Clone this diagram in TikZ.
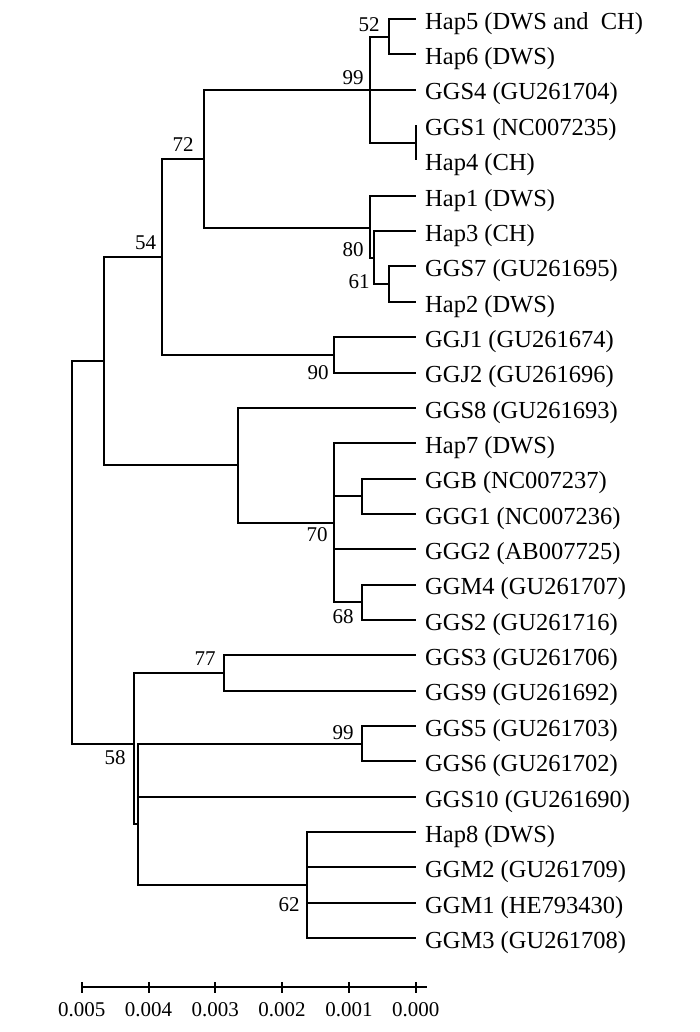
\documentclass[tikz,border=0pt]{standalone}
\usepackage{fontspec}
\setmainfont{Liberation Serif}
\newcommand\leaffont{\fontsize{24.5}{29}\selectfont}
\newcommand\bootfont{\fontsize{21}{25}\selectfont}
\begin{document}
\begin{tikzpicture}[x=1pt,y=-1pt,
  branch/.style={line width=2pt},
  leaf/.style={anchor=base west, inner sep=0pt, font=\leaffont},
  boot/.style={inner sep=0pt, font=\bootfont},
  scalelab/.style={inner sep=0pt, font=\bootfont}]
\useasboundingbox (0,0) rectangle (700,1032);
% leaves
\foreach \i/\nm/\txt in {
  0/Hap5/{Hap5 (DWS and~\ CH)},
  1/Hap6/{Hap6 (DWS)},
  2/GGS4/{GGS4 (GU261704)},
  3/GGS1/{GGS1 (NC007235)},
  4/Hap4/{Hap4 (CH)},
  5/Hap1/{Hap1 (DWS)},
  6/Hap3/{Hap3 (CH)},
  7/GGS7/{GGS7 (GU261695)},
  8/Hap2/{Hap2 (DWS)},
  9/GGJ1/{GGJ1 (GU261674)},
  10/GGJ2/{GGJ2 (GU261696)},
  11/GGS8/{GGS8 (GU261693)},
  12/Hap7/{Hap7 (DWS)},
  13/GGB/{GGB (NC007237)},
  14/GGG1/{GGG1 (NC007236)},
  15/GGG2/{GGG2 (AB007725)},
  16/GGM4/{GGM4 (GU261707)},
  17/GGS2/{GGS2 (GU261716)},
  18/GGS3/{GGS3 (GU261706)},
  19/GGS9/{GGS9 (GU261692)},
  20/GGS5/{GGS5 (GU261703)},
  21/GGS6/{GGS6 (GU261702)},
  22/GGS10/{GGS10 (GU261690)},
  23/Hap8/{Hap8 (DWS)},
  24/GGM2/{GGM2 (GU261709)},
  25/GGM1/{GGM1 (HE793430)},
  26/GGM3/{GGM3 (GU261708)}}{
  \pgfmathsetmacro\yy{19+35.35*\i}
  \coordinate (t\nm) at (415.7,\yy);
  \node[leaf] (l\nm) at (425,\yy+10.3) {\txt};
}
% internal nodes
\coordinate (n52) at (388.7,36.7);
\coordinate (n99) at (370,89.7);
\coordinate (nGH) at (415.7,142.7);
\coordinate (n72) at (204,158.8);
\coordinate (n80) at (370,227.7);
\coordinate (nX) at (374.3,257.6);
\coordinate (n61) at (388.7,284.1);
\coordinate (n54) at (162.3,257.3);
\coordinate (n90) at (334.3,354.8);
\coordinate (nC) at (103.7,361.2);
\coordinate (nD) at (238.3,465.3);
\coordinate (n70) at (334.3,522.7);
\coordinate (nGB) at (361.7,496.2);
\coordinate (n68) at (361.7,602.3);
\coordinate (root) at (71.7,552);
\coordinate (nA) at (134,744.3);
\coordinate (n77) at (224.3,673);
\coordinate (nB) at (137.7,824);
\coordinate (n99b) at (361.7,743.7);
\coordinate (n62) at (306.7,885.1);
% branches
\draw[branch] (n52) |- (tHap5);
\draw[branch] (n52) |- (tHap6);
\draw[branch] (n99) |- (n52);
\draw[branch] (n99) |- (tGGS4);
\draw[branch] (n99) |- (nGH);
\draw[branch] (nGH) |- (tGGS1);
\draw[branch] (nGH) |- (tHap4);
\draw[branch] (n72) |- (n99);
\draw[branch] (n72) |- (n80);
\draw[branch] (n80) |- (tHap1);
\draw[branch] (n80) |- (nX);
\draw[branch] (nX) |- (tHap3);
\draw[branch] (nX) |- (n61);
\draw[branch] (n61) |- (tGGS7);
\draw[branch] (n61) |- (tHap2);
\draw[branch] (n54) |- (n72);
\draw[branch] (n54) |- (n90);
\draw[branch] (n90) |- (tGGJ1);
\draw[branch] (n90) |- (tGGJ2);
\draw[branch] (nC) |- (n54);
\draw[branch] (nC) |- (nD);
\draw[branch] (nD) |- (tGGS8);
\draw[branch] (nD) |- (n70);
\draw[branch] (n70) |- (tHap7);
\draw[branch] (n70) |- (nGB);
\draw[branch] (n70) |- (tGGG2);
\draw[branch] (n70) |- (n68);
\draw[branch] (nGB) |- (tGGB);
\draw[branch] (nGB) |- (tGGG1);
\draw[branch] (n68) |- (tGGM4);
\draw[branch] (n68) |- (tGGS2);
\draw[branch] (root) |- (nC);
\draw[branch] (root) |- (nA);
\draw[branch] (nA) |- (n77);
\draw[branch] (nA) |- (nB);
\draw[branch] (n77) |- (tGGS3);
\draw[branch] (n77) |- (tGGS9);
\draw[branch] (nB) |- (n99b);
\draw[branch] (nB) |- (tGGS10);
\draw[branch] (nB) |- (n62);
\draw[branch] (n99b) |- (tGGS5);
\draw[branch] (n99b) |- (tGGS6);
\draw[branch] (n62) |- (tHap8);
\draw[branch] (n62) |- (tGGM2);
\draw[branch] (n62) |- (tGGM1);
\draw[branch] (n62) |- (tGGM3);
% bootstrap values
\node[boot] (b52) at (369,25) {52};
\node[boot] (b99a) at (353,78) {99};
\node[boot] (b72) at (183,145) {72};
\node[boot] (b54) at (145.5,242.5) {54};
\node[boot] (b80) at (353,250) {80};
\node[boot] (b61) at (359,282) {61};
\node[boot] (b90) at (318,373) {90};
\node[boot] (b70) at (317,535) {70};
\node[boot] (b68) at (343,617) {68};
\node[boot] (b77) at (205,659) {77};
\node[boot] (b99b) at (343,733) {99};
\node[boot] (b58) at (115,758) {58};
\node[boot] (b62) at (289,905) {62};
% scale bar
\coordinate (sL) at (81.7,987.3);
\coordinate (sR) at (426.7,987.3);
\draw[branch] (sL) -- (sR);
\foreach \k/\lab in {0/0.005,1/0.004,2/0.003,3/0.002,4/0.001,5/0.000}{
  \pgfmathsetmacro\xx{81.7+66.8*\k}
  \coordinate (tk\k) at (\xx,987.3);
  \draw[branch] ([yshift=5pt]tk\k) -- ([yshift=-6pt]tk\k);
  \node[scalelab] (sl\k) at (\xx,1010) {\lab};
}
\end{tikzpicture}
\end{document}
